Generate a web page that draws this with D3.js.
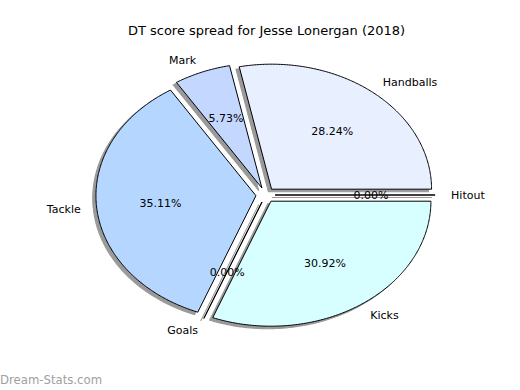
<!DOCTYPE html>
<html>
<head>
<meta charset="utf-8">
<script src="https://cdn.jsdelivr.net/npm/d3@7"></script>
<style>
  body { margin: 0; background: #fff; }
  svg { font-family: "DejaVu Sans", sans-serif; }
</style>
</head>
<body>
<svg id="chart"></svg>
<script>
const categories = ["Handballs", "Mark", "Tackle", "Goals", "Kicks", "Hitout"];
const percents = [28.24, 5.73, 35.11, 0.00, 30.92, 0.00];
const colors = ["#e8f0ff", "#c4d8ff", "#b4d6ff", "#ffffff", "#d8ffff", "#ffffff"];

const width = 520, height = 390;
const explode = 0.06;

const svg = d3.select("#chart")
  .attr("width", width)
  .attr("height", height);

// data units -> pixels (pie is stretched by the axes, so x and y differ)
const x = d3.scaleLinear().domain([-1, 1]).range([105.5, 425.5]);
const y = d3.scaleLinear().domain([-1, 1]).range([320, 70]);

const total = d3.sum(percents);
let start = 0;
const slices = categories.map((c, i) => {
  const a0 = start;
  const a1 = start + percents[i] / total * 2 * Math.PI;
  start = a1;
  const mid = (a0 + a1) / 2;
  return {
    name: c, value: percents[i], color: colors[i], a0, a1, mid,
    ox: explode * Math.cos(mid), oy: explode * Math.sin(mid)
  };
});

const line = d3.line().x(d => x(d[0])).y(d => y(d[1]));

function wedge(d, dx, dy) {
  const pts = [[d.ox + dx, d.oy + dy]];
  const n = Math.max(2, Math.ceil((d.a1 - d.a0) / 0.01));
  for (let k = 0; k <= n; k++) {
    const t = d.a0 + (d.a1 - d.a0) * k / n;
    pts.push([d.ox + dx + Math.cos(t), d.oy + dy + Math.sin(t)]);
  }
  pts.push([d.ox + dx, d.oy + dy]);
  return line(pts) + "Z";
}

// shadows first
svg.append("g")
  .selectAll("path")
  .data(slices)
  .enter()
  .append("path")
  .attr("d", d => wedge(d, -0.02, -0.02))
  .attr("fill", "#9a9a9a")
  .attr("stroke", "#9a9a9a")
  .attr("stroke-width", 1.1);

svg.append("g")
  .selectAll("path")
  .data(slices)
  .enter()
  .append("path")
  .attr("d", d => wedge(d, 0, 0))
  .attr("fill", d => d.color)
  .attr("stroke", "#000")
  .attr("stroke-width", 1)
  .attr("stroke-linejoin", "round");

// category labels
svg.append("g")
  .selectAll("text")
  .data(slices)
  .enter()
  .append("text")
  .attr("x", d => x(d.ox + 1.1 * Math.cos(d.mid)))
  .attr("y", d => y(d.oy + 1.1 * Math.sin(d.mid)))
  .attr("dy", "0.35em")
  .attr("text-anchor", d => Math.cos(d.mid) > 0 ? "start" : "end")
  .style("font-size", "11px")
  .text(d => d.name);

// percentage labels
svg.append("g")
  .selectAll("text")
  .data(slices)
  .enter()
  .append("text")
  .attr("x", d => x(d.ox + 0.6 * Math.cos(d.mid)))
  .attr("y", d => y(d.oy + 0.6 * Math.sin(d.mid)))
  .attr("dy", "0.35em")
  .attr("text-anchor", "middle")
  .style("font-size", "11px")
  .text(d => d.value.toFixed(2) + "%");

svg.append("text")
  .attr("x", 266.5)
  .attr("y", 30)
  .attr("dy", "0.35em")
  .attr("text-anchor", "middle")
  .style("font-size", "13px")
  .text("DT score spread for Jesse Lonergan (2018)");

svg.append("text")
  .attr("x", 0)
  .attr("y", 384)
  .style("font-size", "11.7px")
  .style("fill", "#a0a0a0")
  .text("Dream-Stats.com");
</script>
</body>
</html>
